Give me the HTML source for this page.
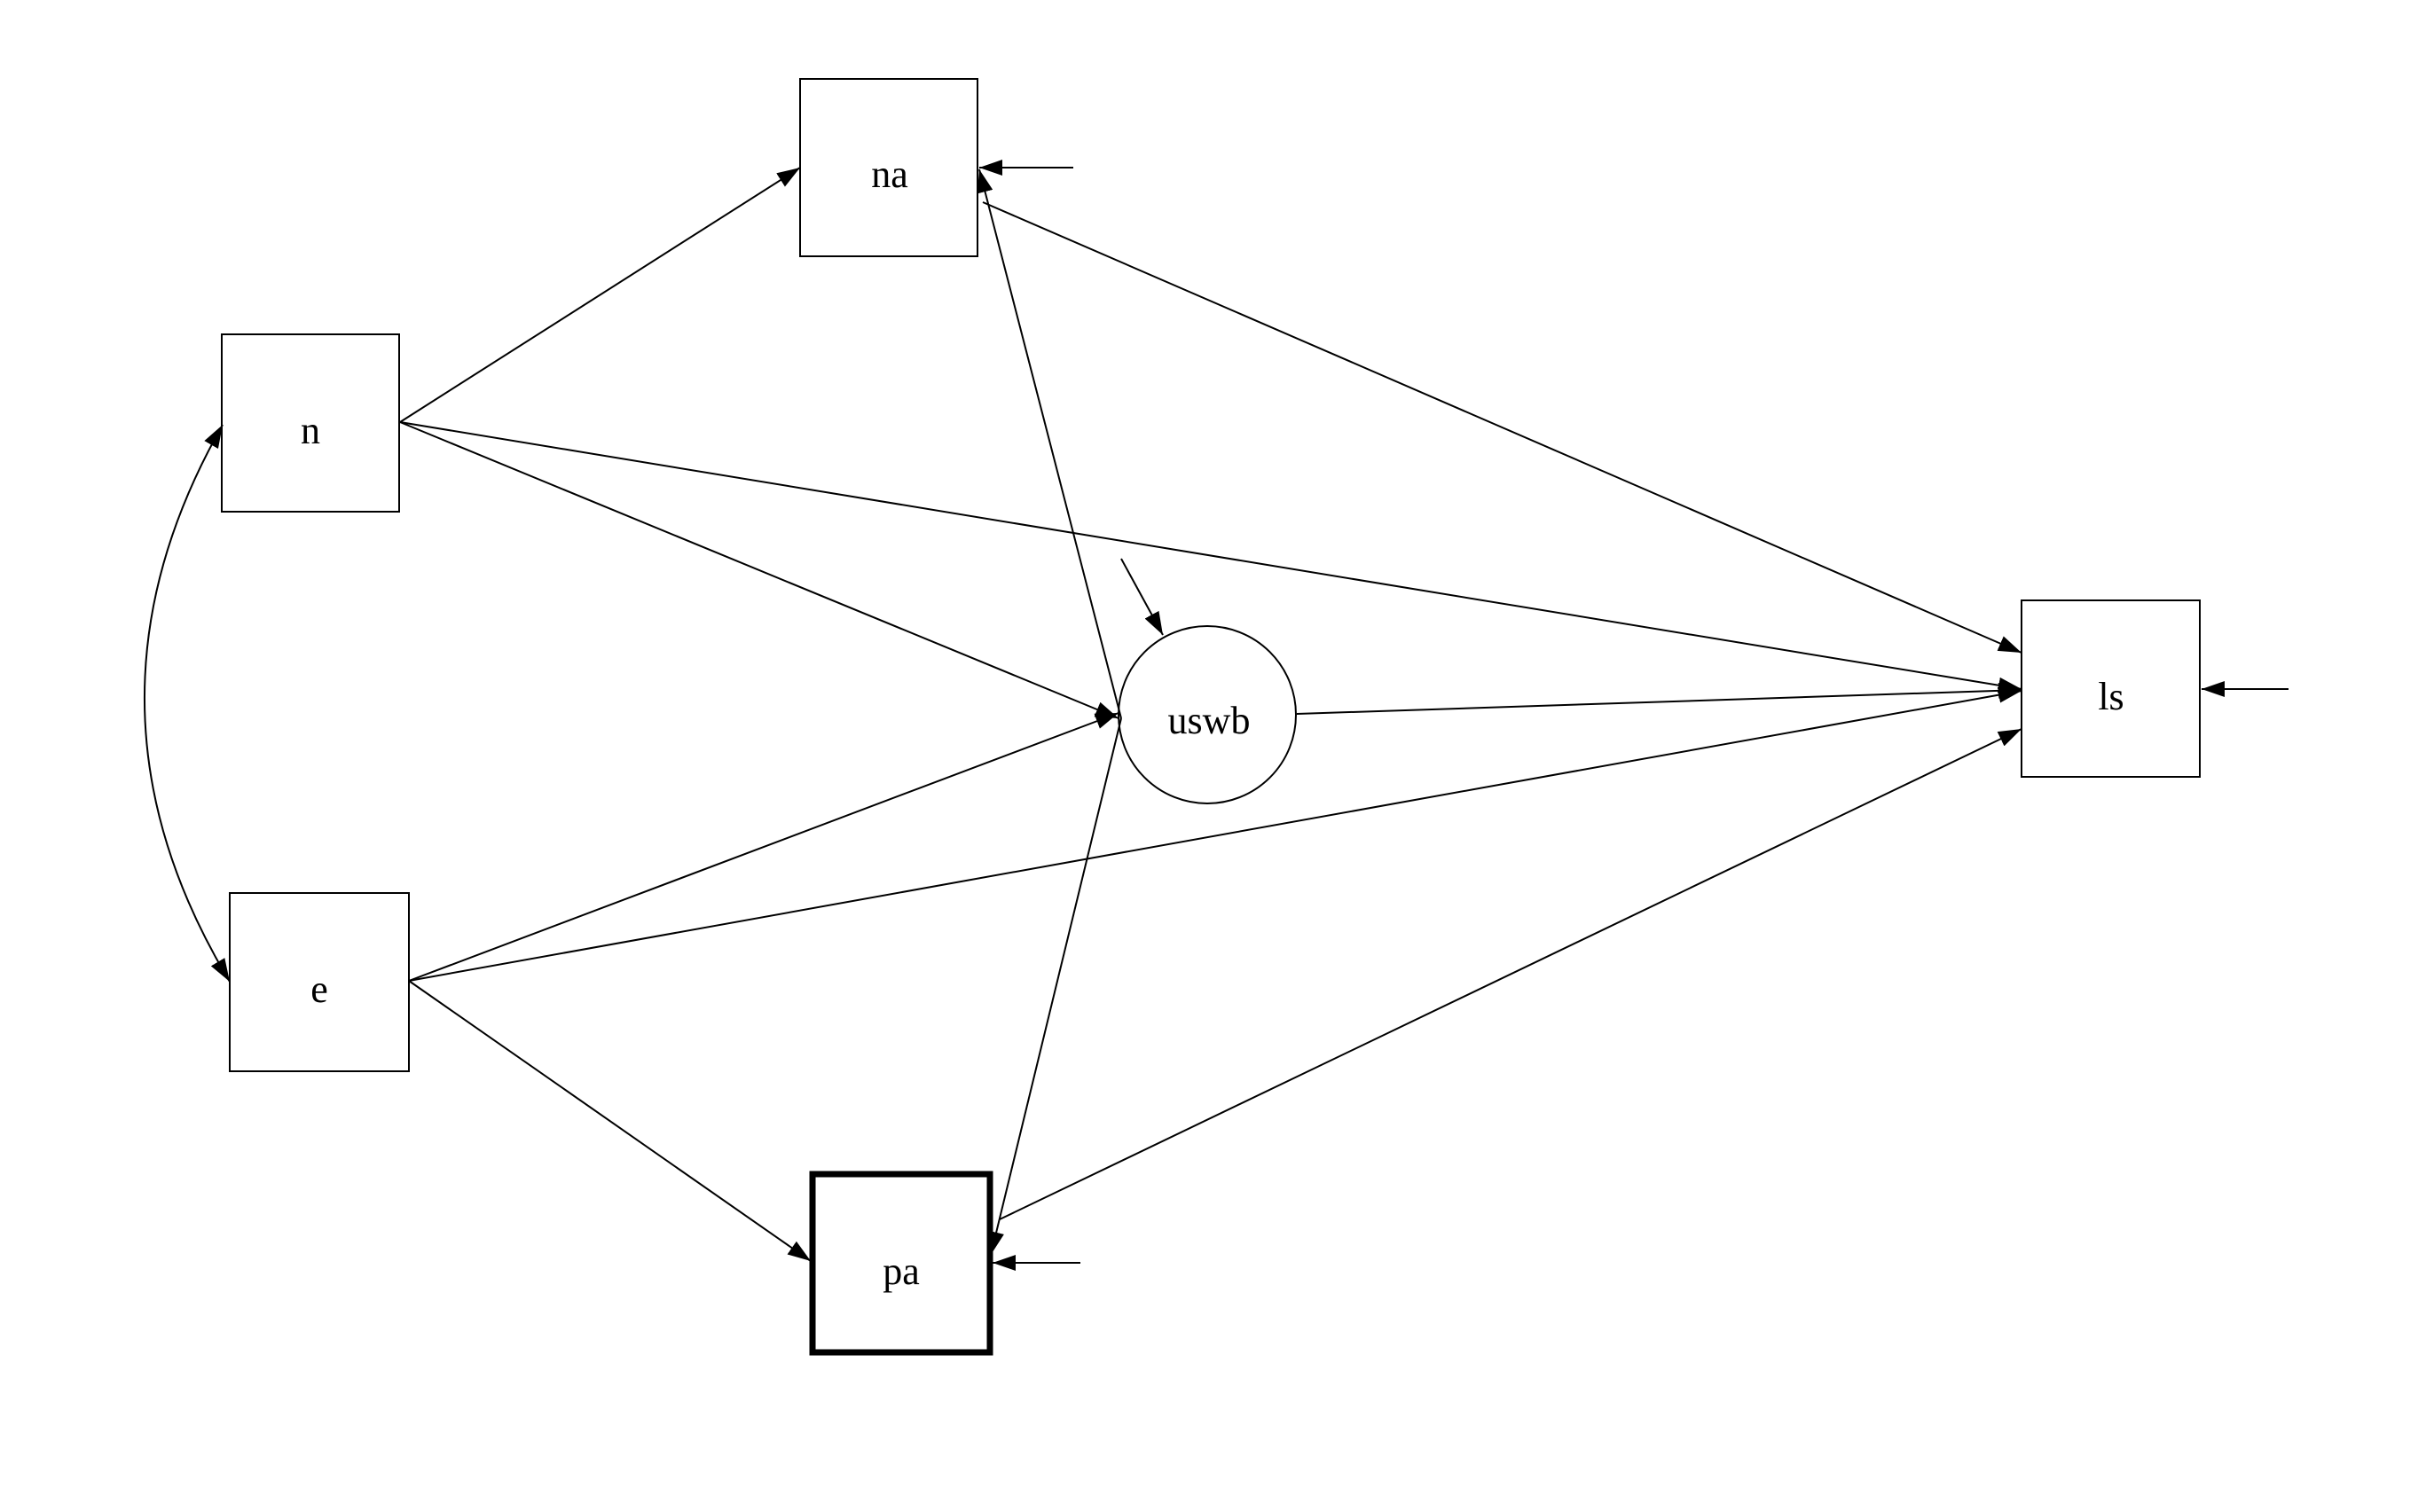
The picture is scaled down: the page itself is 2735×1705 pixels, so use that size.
<!DOCTYPE html>
<html><head><meta charset="utf-8"><style>html,body{margin:0;padding:0;background:#fff}svg{display:block}</style></head>
<body>
<svg width="2735" height="1705" viewBox="0 0 2735 1705" xmlns="http://www.w3.org/2000/svg">
<defs>
<marker id="a" viewBox="0 0 10 10" refX="10" refY="5" markerWidth="26" markerHeight="18" markerUnits="userSpaceOnUse" orient="auto-start-reverse" preserveAspectRatio="none">
<path d="M0,0 L10,5 L0,10 z" fill="#000"/></marker>
</defs>
<g fill="none" stroke="#000" stroke-width="2">
<rect x="902" y="89" width="200" height="200"/>
<rect x="250" y="377" width="200" height="200"/>
<rect x="259" y="1007" width="202" height="201"/>
<rect x="2279" y="677" width="201" height="199"/>
<rect x="916" y="1324" width="200" height="201" stroke-width="7"/>
<ellipse cx="1361" cy="806" rx="100" ry="100"/>
</g>
<g fill="none" stroke="#000" stroke-width="2" marker-end="url(#a)">
<line x1="1210" y1="189" x2="1104" y2="189"/>
<line x1="2580" y1="777" x2="2482" y2="777"/>
<line x1="1218" y1="1424" x2="1119" y2="1424"/>
<line x1="1264" y1="630" x2="1311" y2="716"/>
<line x1="451" y1="476" x2="902" y2="189"/>
<line x1="451" y1="476" x2="1261" y2="810"/>
<line x1="451" y1="476" x2="2279" y2="777"/>
<line x1="1108" y1="228" x2="2279" y2="736"/>
<line x1="1264" y1="810" x2="1104" y2="191"/>
<line x1="1264" y1="810" x2="1117" y2="1415"/>
<line x1="461" y1="1106" x2="1261" y2="804"/>
<line x1="461" y1="1106" x2="2279" y2="779"/>
<line x1="461" y1="1106" x2="914" y2="1422"/>
<line x1="1462" y1="805" x2="2279" y2="778"/>
<line x1="1127" y1="1375" x2="2279" y2="822"/>
<path d="M251,479 Q71,795 259,1107" marker-start="url(#a)"/>
</g>
<g font-family="Liberation Serif, serif" font-size="44" text-anchor="middle" fill="#000">
<text x="1003" y="211">na</text>
<text x="350" y="500">n</text>
<text x="360" y="1130">e</text>
<text x="2380" y="800">ls</text>
<text x="1016" y="1448">pa</text>
<text x="1363" y="827">uswb</text>
</g>
</svg>
</body></html>
